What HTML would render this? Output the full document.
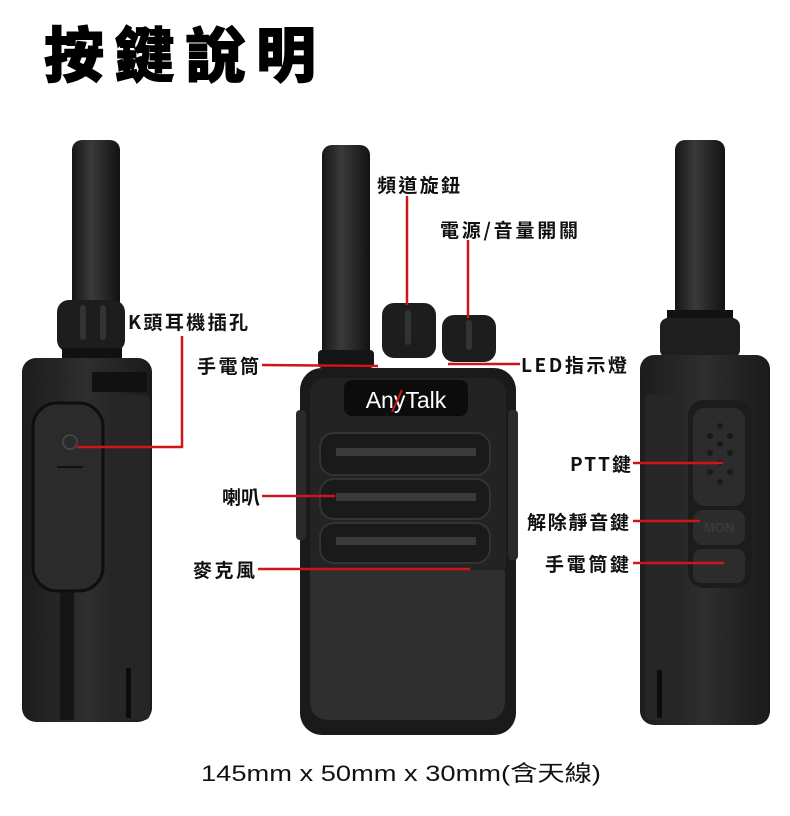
<!DOCTYPE html>
<html><head><meta charset="utf-8"><style>
html,body{margin:0;padding:0;background:#fff;width:790px;height:816px;overflow:hidden}
svg{display:block}
.l{font-family:"Noto Sans CJK TC","Liberation Sans",sans-serif;font-size:19px;font-weight:bold;fill:#111}
</style></head><body>
<svg width="790" height="816" viewBox="0 0 790 816" xmlns="http://www.w3.org/2000/svg">
<defs>
<linearGradient id="ant" x1="0" x2="1"><stop offset="0" stop-color="#151515"/><stop offset=".4" stop-color="#3a3a3a"/><stop offset="1" stop-color="#121212"/></linearGradient>
<linearGradient id="body" x1="0" x2="1"><stop offset="0" stop-color="#1c1c1c"/><stop offset=".5" stop-color="#2e2e2e"/><stop offset="1" stop-color="#1a1a1a"/></linearGradient>
</defs>
<text x="44" y="77" font-family="'Noto Sans CJK TC',sans-serif" font-weight="900" font-size="60" textLength="272" lengthAdjust="spacing" fill="#000" stroke="#000" stroke-width="1">按鍵說明</text>

<!-- LEFT radio -->
<rect x="72" y="140" width="48" height="175" rx="10" fill="url(#ant)"/>
<rect x="57" y="300" width="68" height="52" rx="12" fill="#1d1d1d"/>
<rect x="80" y="305" width="6" height="35" rx="3" fill="#333"/>
<rect x="100" y="305" width="6" height="35" rx="3" fill="#333"/>
<rect x="62" y="348" width="60" height="14" fill="#111"/>
<rect x="22" y="358" width="130" height="364" rx="14" fill="url(#body)"/>
<rect x="92" y="372" width="55" height="20" fill="#111"/>
<rect x="110" y="395" width="40" height="325" rx="6" fill="#262626"/>
<rect x="60" y="580" width="14" height="140" fill="#151515"/>
<rect x="33" y="403" width="70" height="188" rx="24" fill="#2b2b2b" stroke="#0e0e0e" stroke-width="3"/>
<rect x="57" y="466" width="26" height="2" fill="#111"/>
<circle cx="70" cy="442" r="7" fill="none" stroke="#444" stroke-width="2"/>
<rect x="126" y="668" width="5" height="50" fill="#0c0c0c"/>

<!-- CENTER radio -->
<rect x="322" y="145" width="48" height="215" rx="10" fill="url(#ant)"/>
<rect x="318" y="350" width="56" height="18" rx="4" fill="#151515"/>
<rect x="382" y="303" width="54" height="55" rx="12" fill="#1d1d1d"/>
<rect x="405" y="310" width="6" height="35" rx="3" fill="#333"/>
<rect x="442" y="315" width="54" height="47" rx="12" fill="#1d1d1d"/>
<rect x="466" y="320" width="6" height="30" rx="3" fill="#333"/>
<rect x="300" y="368" width="216" height="367" rx="22" fill="#1a1a1a"/>
<rect x="310" y="378" width="196" height="200" rx="16" fill="#232323"/>
<rect x="344" y="380" width="124" height="36" rx="8" fill="#0c0c0c"/>
<text x="406" y="408" text-anchor="middle" font-family="'Liberation Sans',sans-serif" font-size="23" fill="#fff">AnyTalk</text>
<line x1="392" y1="412" x2="402" y2="390" stroke="#c8181c" stroke-width="2"/>
<rect x="320" y="433" width="170" height="42" rx="14" fill="#1a1a1a" stroke="#333" stroke-width="2"/>
<rect x="336" y="448" width="140" height="8" fill="#3a3a3a"/>
<rect x="320" y="479" width="170" height="40" rx="14" fill="#1a1a1a" stroke="#333" stroke-width="2"/>
<rect x="336" y="493" width="140" height="8" fill="#3a3a3a"/>
<rect x="320" y="523" width="170" height="40" rx="14" fill="#1a1a1a" stroke="#333" stroke-width="2"/>
<rect x="336" y="537" width="140" height="8" fill="#3a3a3a"/>
<path d="M310 570 H505 V700 Q505 720 485 720 H330 Q310 720 310 700 Z" fill="#2f2f2f"/>
<rect x="296" y="410" width="10" height="130" rx="4" fill="#2a2a2a"/>
<rect x="508" y="410" width="10" height="150" rx="4" fill="#2a2a2a"/>

<!-- RIGHT radio -->
<rect x="675" y="140" width="50" height="180" rx="10" fill="url(#ant)"/>
<rect x="667" y="310" width="66" height="10" fill="#111"/>
<rect x="660" y="318" width="80" height="40" rx="8" fill="#1e1e1e"/>
<rect x="640" y="355" width="130" height="370" rx="14" fill="url(#body)"/>
<rect x="645" y="395" width="30" height="325" rx="6" fill="#262626"/>
<rect x="688" y="400" width="64" height="188" rx="16" fill="#1c1c1c"/>
<rect x="693" y="408" width="52" height="98" rx="12" fill="#2c2c2c"/>
<rect x="693" y="510" width="52" height="35" rx="10" fill="#2c2c2c"/>
<rect x="693" y="549" width="52" height="34" rx="8" fill="#2c2c2c"/>
<g fill="#1a1a1a"><circle cx="720" cy="426" r="3"/><circle cx="710" cy="436" r="3"/><circle cx="730" cy="436" r="3"/><circle cx="720" cy="444" r="3"/><circle cx="710" cy="453" r="3"/><circle cx="730" cy="453" r="3"/><circle cx="720" cy="463" r="3"/><circle cx="710" cy="472" r="3"/><circle cx="730" cy="472" r="3"/><circle cx="720" cy="482" r="3"/></g>
<text x="719" y="532" text-anchor="middle" font-family="'Liberation Sans',sans-serif" font-weight="bold" font-size="13" fill="#3a3a3a">MON</text>
<rect x="657" y="670" width="5" height="48" fill="#0c0c0c"/>

<!-- red lines -->
<g stroke="#d0141a" stroke-width="2.5" fill="none">
<polyline points="182,336 182,447 77,447"/>
<line x1="262" y1="365" x2="378" y2="366"/>
<line x1="262" y1="496" x2="335" y2="496"/>
<line x1="258" y1="569" x2="470" y2="569"/>
<line x1="407" y1="196" x2="407" y2="305"/>
<line x1="468" y1="240" x2="468" y2="318"/>
<line x1="448" y1="364" x2="520" y2="364"/>
<line x1="633" y1="463" x2="723" y2="463"/>
<line x1="633" y1="521" x2="700" y2="521"/>
<line x1="633" y1="563" x2="724" y2="563"/>
</g>

<!-- labels -->
<text class="l" x="128" y="329" textLength="120" lengthAdjust="spacing">K頭耳機插孔</text>
<text class="l" x="197" y="373" textLength="62" lengthAdjust="spacing">手電筒</text>
<text class="l" x="222" y="504" textLength="38" lengthAdjust="spacingAndGlyphs">喇叭</text>
<text class="l" x="193" y="577" textLength="62" lengthAdjust="spacing">麥克風</text>
<text class="l" x="377" y="192" textLength="83" lengthAdjust="spacing">頻道旋鈕</text>
<text class="l" x="440" y="237" textLength="138" lengthAdjust="spacing">電源/音量開關</text>
<text class="l" x="521" y="372" textLength="106" lengthAdjust="spacing">LED指示燈</text>
<text class="l" x="570" y="471" textLength="61" lengthAdjust="spacing">PTT鍵</text>
<text class="l" x="527" y="529" textLength="102" lengthAdjust="spacing">解除靜音鍵</text>
<text class="l" x="545" y="571" textLength="84" lengthAdjust="spacing">手電筒鍵</text>
<text x="201" y="781" font-family="'Liberation Sans','Noto Sans CJK TC',sans-serif" font-size="22" textLength="400" lengthAdjust="spacingAndGlyphs" fill="#111">145mm x 50mm x 30mm(含天線)</text>
</svg>
</body></html>
